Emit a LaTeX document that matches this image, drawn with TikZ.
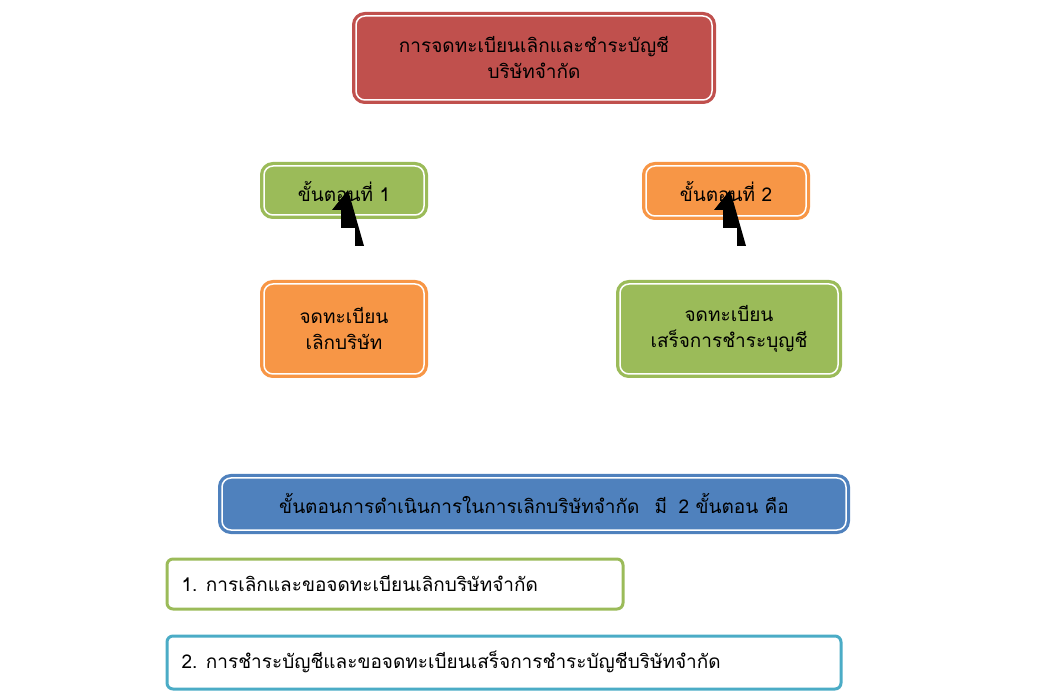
\documentclass[tikz,border=0pt]{standalone}
\usepackage{fontspec}
\newfontfamily\thai[Script=Thai]{Loma}
\definecolor{cred}{HTML}{C0504D}
\definecolor{cgreen}{HTML}{9BBB59}
\definecolor{corange}{HTML}{F79646}
\definecolor{cblue}{HTML}{4F81BD}
\definecolor{ccyan}{HTML}{4BACC6}
\tikzset{
  fbox/.style={rounded corners=9pt, fill=#1, draw=white, line width=1.5pt,
    preaction={draw=#1, line width=8pt}},
  obox/.style={rounded corners=6pt, fill=white, draw=#1, line width=3pt},
  txt/.style={font=\thai\fontsize{19}{26}\selectfont, text=black, align=center},
  barrow/.style={fill=black}
}
\begin{document}
\begin{tikzpicture}[x=1pt,y=-1pt]
\useasboundingbox (0,0) rectangle (1050,700);
\draw[fbox=cred] (356,16) rectangle (712,100);
\node[txt] (t) at (534,58) {การจดทะเบียนเลิกและชำระบัญชี\\บริษัทจำกัด};
\draw[fbox=cgreen] (264,166) rectangle (424,215);
\node[txt] (s1) at (344,191) {ขั้นตอนที่ 1};
\draw[fbox=corange] (646,166) rectangle (806,216);
\node[txt] (s2) at (726,191) {ขั้นตอนที่ 2};
\draw[fbox=corange] (264,284) rectangle (424,374);
\node[txt] (b1) at (344,329) {จดทะเบียน\\เลิกบริษัท};
\draw[fbox=cgreen] (620,284) rectangle (838,374);
\node[txt] (b2) at (729,329) {จดทะเบียน\\เสร็จการชำระบุญชี};
\coordinate (a1) at (348,228);
\coordinate (a2) at (730,228);
\foreach \c in {a1,a2}{
  \fill[barrow] ([xshift=-7pt]\c) -- ++(14,0) -- ++(0,18) -- ++(9,0) -- ([yshift=38pt]\c) -- ([xshift=-16pt,yshift=18pt]\c) -- ++(9,0) -- cycle;
}
\draw[fbox=cblue] (222,478) rectangle (846,530);
\node[txt] (h) at (534,503) {ขั้นตอนการดำเนินการในการเลิกบริษัทจำกัด\hspace{0.8em}มี\hspace{0.6em}2 ขั้นตอน คือ};
\draw[obox=cgreen] (167,559) rectangle (623,609);
\node[txt, anchor=west] (i1) at (178,584) {1. การเลิกและขอจดทะเบียนเลิกบริษัทจำกัด};
\draw[obox=ccyan] (167,636) rectangle (841,689);
\node[txt, anchor=west] (i2) at (178,662) {2. การชำระบัญชีและขอจดทะเบียนเสร็จการชำระบัญชีบริษัทจำกัด};
\end{tikzpicture}
\end{document}
